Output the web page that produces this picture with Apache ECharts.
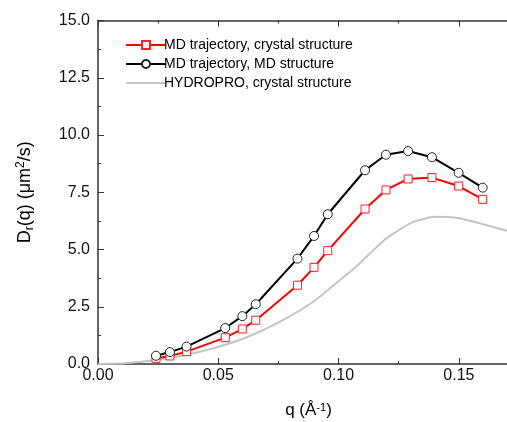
<!DOCTYPE html>
<html>
<head>
<meta charset="utf-8">
<script src="https://cdn.jsdelivr.net/npm/echarts@6/dist/echarts.min.js"></script>
<style>
  html, body { margin: 0; padding: 0; background: #fff; }
  #main { width: 507px; height: 422px; }
</style>
</head>
<body>
<div id="main"></div>
<script>
// q positions of the MD points (1/Angstrom)
var qMd = [0.0241, 0.0299, 0.0368, 0.0529, 0.0600, 0.0656, 0.0829, 0.0898, 0.0955,
           0.1110, 0.1197, 0.1289, 0.1388, 0.1499, 0.1599];
// MD trajectory, crystal structure
var dCrystal = [0.25, 0.35, 0.54, 1.15, 1.53, 1.91, 3.44, 4.22, 4.95,
                6.77, 7.60, 8.08, 8.14, 7.77, 7.19];
// MD trajectory, MD structure
var dMdStruct = [0.36, 0.52, 0.76, 1.57, 2.09, 2.61, 4.60, 5.59, 6.54,
                 8.46, 9.14, 9.30, 9.03, 8.35, 7.70];
// HYDROPRO curve
var qHydro = [0.000, 0.010, 0.0134, 0.0241, 0.0342, 0.048, 0.0619, 0.0757, 0.0895,
              0.1006, 0.1076, 0.1193, 0.1304, 0.1401, 0.1497, 0.1588, 0.1699, 0.176];
var dHydro = [0.00, 0.02, 0.05, 0.17, 0.35, 0.69, 1.17, 1.85, 2.72,
              3.67, 4.28, 5.44, 6.17, 6.43, 6.38, 6.14, 5.82, 5.62];

var seriesNames = ['MD trajectory, crystal structure', 'MD trajectory, MD structure', 'HYDROPRO, crystal structure'];

function pairs(xs, ys) {
    var out = [];
    xs.forEach(function (x, i) { out.push([x, ys[i]]); });
    return out;
}

var chart = echarts.init(document.getElementById('main'), null, { renderer: 'canvas' });
var font = 'Liberation Sans, Arial, sans-serif';
var axisColor = '#333';

chart.setOption({
    animation: false,
    backgroundColor: '#fff',
    textStyle: { fontFamily: font },
    grid: { left: 98, top: 20.5, width: 421, height: 343.5, outerBoundsMode: 'none' },
    legend: {
        orient: 'vertical',
        left: 120, top: 33,
        itemWidth: 40, itemHeight: 10, itemGap: 5,
        textStyle: { fontSize: 14, color: '#000', fontFamily: font, padding: [0, 0, 0, -7] },
        data: seriesNames
    },
    xAxis: [{
        type: 'value', min: 0, max: 0.175, interval: 0.05,
        name: 'q ({a|Å}{sup|-1})', nameLocation: 'middle', nameGap: 38,
        nameTextStyle: {
            fontSize: 17, color: '#000', fontFamily: font,
            rich: {
                a: { fontSize: 17, fontFamily: font, color: '#000' },
                sup: { fontSize: 11, fontFamily: font, color: '#000', verticalAlign: 'top', lineHeight: 12 }
            }
        },
        axisLine: { show: true, lineStyle: { color: axisColor, width: 1.5 } },
        axisTick: { show: true, inside: true, length: 6, lineStyle: { color: axisColor } },
        minorTick: { show: true, splitNumber: 2, length: 3, lineStyle: { color: axisColor } },
        splitLine: { show: false },
        axisLabel: {
            fontSize: 16, color: '#111', margin: 4, showMaxLabel: false,
            formatter: function (v) { return v.toFixed(2); }
        }
    }, {
        type: 'value', position: 'top', min: 0, max: 0.175, interval: 0.05,
        axisLine: { show: true, lineStyle: { color: axisColor, width: 1.5 } },
        axisTick: { show: true, inside: true, length: 6, lineStyle: { color: axisColor } },
        minorTick: { show: true, splitNumber: 2, length: 3, lineStyle: { color: axisColor } },
        splitLine: { show: false },
        axisLabel: { show: false }
    }],
    yAxis: {
        type: 'value', min: 0, max: 15, interval: 2.5,
        name: '{a|D}{sub|r}{a|(q) (μm}{sup|2}{a|/s)}', nameLocation: 'middle', nameGap: 62, nameRotate: 90,
        nameTextStyle: {
            fontSize: 18, color: '#000', fontFamily: font,
            rich: {
                a: { fontSize: 18, fontFamily: font, color: '#000', lineHeight: 21 },
                sub: { fontSize: 12, fontFamily: font, color: '#000', verticalAlign: 'bottom', lineHeight: 10 },
                sup: { fontSize: 12, fontFamily: font, color: '#000', verticalAlign: 'top', lineHeight: 12 }
            }
        },
        axisLine: { show: true, lineStyle: { color: axisColor, width: 1.5 } },
        axisTick: { show: true, inside: true, length: 6, lineStyle: { color: axisColor } },
        minorTick: { show: true, splitNumber: 2, length: 3, lineStyle: { color: axisColor } },
        splitLine: { show: false },
        axisLabel: {
            fontSize: 16, color: '#111', margin: 8,
            formatter: function (v) { return v.toFixed(1); }
        }
    },
    series: [{
        name: seriesNames[0], type: 'line',
        data: pairs(qMd, dCrystal),
        symbol: 'rect', symbolSize: 8,
        lineStyle: { color: '#ff0000', width: 2 },
        itemStyle: { color: '#fff', borderColor: '#ff2020', borderWidth: 1 },
        z: 3
    }, {
        name: seriesNames[1], type: 'line',
        data: pairs(qMd, dMdStruct),
        symbol: 'circle', symbolSize: 9,
        lineStyle: { color: '#000', width: 2 },
        itemStyle: { color: '#fff', borderColor: '#222', borderWidth: 1 },
        z: 4
    }, {
        name: seriesNames[2], type: 'line',
        data: pairs(qHydro, dHydro),
        symbol: 'none', smooth: 0.2,
        lineStyle: { color: '#c4c4c4', width: 2, opacity: 1 },
        itemStyle: { color: '#c4c4c4', opacity: 0 },
        z: 2
    }]
});
</script>
</body>
</html>
